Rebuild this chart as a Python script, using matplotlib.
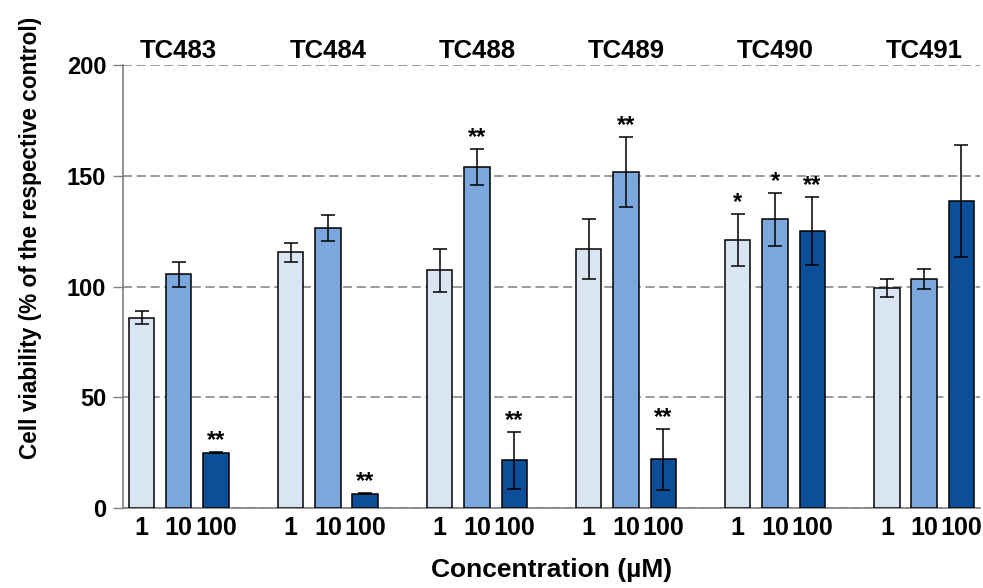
import matplotlib
matplotlib.use("Agg")
import matplotlib.pyplot as plt
import numpy as np

plt.rcParams['font.family'] = ['Liberation Sans', 'DejaVu Sans']
plt.rcParams['font.weight'] = 'bold'

groups = ["TC483", "TC484", "TC488", "TC489", "TC490", "TC491"]
conc_labels = ["1", "10", "100"]

mean_1 = [86, 115.5, 107.5, 117, 121, 99.5]
mean_10 = [105.5, 126.5, 154, 152, 130.5, 103.5]
mean_100 = [25, 6.5, 21.5, 22, 125, 138.5]

sd_1 = [3, 4.3, 9.7, 13.6, 11.6, 4]
sd_10 = [5.5, 6, 8, 15.8, 12, 4.4]
sd_100 = [0.3, 0.2, 13, 13.7, 15.4, 25.3]

stars_1 = ["", "", "", "", "*", ""]
stars_10 = ["", "", "**", "**", "*", ""]
stars_100 = ["**", "**", "**", "**", "**", ""]

colors = ["#dae5f4", "#7ba7dc", "#0a4f97"]
grey = "#7f7f7f"

fig = plt.figure(figsize=(9.83, 5.88), dpi=100)
ax = fig.add_axes([0.125, 0.136, 0.872, 0.753])

means = [mean_1, mean_10, mean_100]
sds = [sd_1, sd_10, sd_100]
stars = [stars_1, stars_10, stars_100]

# 4 slots per group (3 bars + gap)
base = np.arange(len(groups)) * 4
all_x = []
all_lab = []
for i in range(3):
    x = base + i
    ax.bar(x, means[i], width=0.68, color=colors[i], edgecolor="black",
           linewidth=1.1, zorder=3)
    ax.errorbar(x, means[i], yerr=sds[i], fmt="none", ecolor="black",
                elinewidth=1.1, capsize=5, capthick=1.1, zorder=4)
    for xx, m, s, st in zip(x, means[i], sds[i], stars[i]):
        if st:
            ax.annotate(st, (xx, m + s), xytext=(0, 0), textcoords="offset points",
                        ha="center", va="bottom", fontsize=17, fontweight="bold")
    all_x += list(x)
    all_lab += [conc_labels[i]] * len(groups)

ax.set_xticks(all_x)
ax.set_xticklabels(all_lab, fontsize=18, fontweight="bold")
ax.tick_params(axis="x", length=0, pad=6)

for g, name in enumerate(groups):
    ax.text(base[g] + 1, 1.005, name, transform=ax.get_xaxis_transform(),
            ha="center", va="bottom", fontsize=18.5, fontweight="bold")

ax.set_xlim(-0.5, 22.5)
ax.set_ylim(0, 200)
ax.set_yticks([0, 50, 100, 150, 200])
ax.tick_params(axis="y", labelsize=17, length=7, color=grey, width=1, pad=5)
for lab in ax.get_yticklabels():
    lab.set_fontweight("bold")

ax.yaxis.grid(True, linestyle=(0, (6, 3)), color=grey, linewidth=1.1, zorder=0)
ax.set_axisbelow(True)
ax.spines["top"].set_visible(False)
ax.spines["right"].set_visible(False)
ax.spines["left"].set_color(grey)
ax.spines["bottom"].set_color(grey)
ax.spines["left"].set_linewidth(1.2)
ax.spines["bottom"].set_linewidth(1.2)

ax.set_xlabel("Concentration (µM)", fontsize=19, fontweight="bold", labelpad=13)
ax.set_ylabel("Cell viability (% of the respective control)", fontsize=16.3,
              fontweight="bold")
ax.yaxis.set_label_coords(-0.094, 0.61)

fig.savefig("out.png", dpi=100)
